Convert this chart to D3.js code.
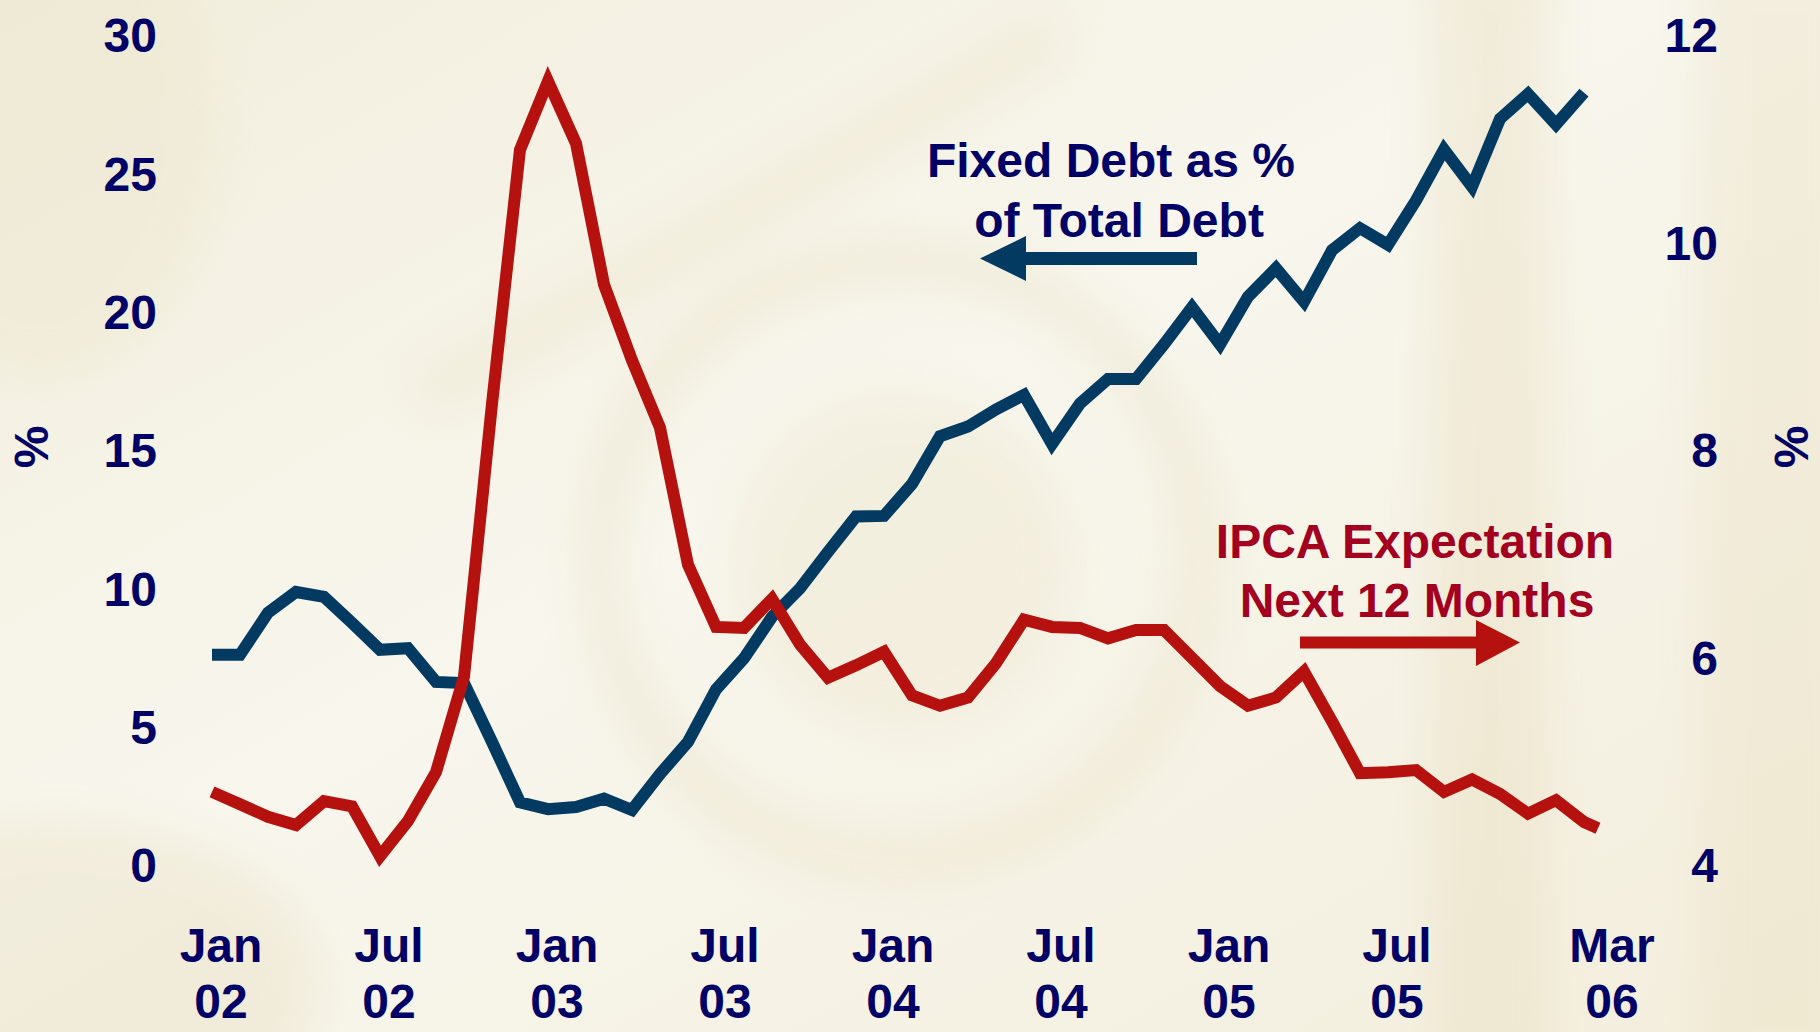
<!DOCTYPE html>
<html>
<head>
<meta charset="utf-8">
<script src="https://cdn.jsdelivr.net/npm/d3@7"></script>
<style>
  body { margin: 0; background: #f5f1e3; }
  svg { display: block; }
  svg text { font-family: "Liberation Sans", Arial, sans-serif; font-weight: bold; font-size: 48px; }
</style>
</head>
<body>
<div class="chart_wrapper"></div>
<script>

// Fixed rate debt as % of total debt (left axis), monthly Jan 02 .. Feb 06
const fixedDebt = [
  7.58, 7.58, 9.1, 9.85, 9.67, 8.73, 7.76, 7.82, 6.6, 6.56, 4.43, 2.25,
  2.0, 2.08, 2.38, 1.97, 3.27, 4.43, 6.33, 7.45, 8.95, 9.98, 11.3, 12.58,
  12.6, 13.75, 15.48, 15.83, 16.45, 16.97, 15.2, 16.66, 17.55, 17.55, 18.8, 20.14,
  18.8, 20.52, 21.55, 20.34, 22.2, 23.0, 22.4, 24.0, 25.84, 24.5, 26.95, 27.85,
  26.75, 27.9
]

// IPCA expectation next 12 months (right axis), same months
const ipcaExp = [
  4.70, 4.58, 4.46, 4.38, 4.61, 4.56, 4.08, 4.42, 4.89, 5.81, 8.44, 10.89,
  11.55, 10.95, 9.59, 8.86, 8.21, 6.89, 6.29, 6.28, 6.56, 6.12, 5.80, 5.92,
  6.05, 5.63, 5.53, 5.61, 5.94, 6.36, 6.29, 6.28, 6.18, 6.26, 6.26, 5.99,
  5.72, 5.53, 5.61, 5.86, 5.38, 4.88, 4.89, 4.91, 4.70, 4.82, 4.68, 4.49,
  4.62, 4.41
]
// the red line runs a little past the last full month
const ipcaTail = 4.35

const tickMonths = [0, 6, 12, 18, 24, 30, 36, 42, 50]
const tickLabels = [["Jan", "02"], ["Jul", "02"], ["Jan", "03"], ["Jul", "03"], ["Jan", "04"],
  ["Jul", "04"], ["Jan", "05"], ["Jul", "05"], ["Mar", "06"]]

const leftTicks = [0, 5, 10, 15, 20, 25, 30]
const rightTicks = [4, 6, 8, 10, 12]


const navy = "#000066"
const blueLine = "#023a62"
const redLine = "#b5120f"
const redText = "#a3001f"

const width = 1820, height = 1032

const svg = d3.select(".chart_wrapper")
  .append("svg")
    .attr("width", width)
    .attr("height", height)
    .attr("viewBox", `0 0 ${width} ${height}`)


//background, a pale banknote-ish paper

const defs = svg.append("defs")

defs.append("filter")
    .attr("id", "soft")
    .attr("x", "-50%").attr("y", "-50%").attr("width", "200%").attr("height", "200%")
  .append("feGaussianBlur")
    .attr("stdDeviation", 22)

const paper = defs.append("linearGradient")
    .attr("id", "paper")
    .attr("x1", 0).attr("y1", 0).attr("x2", 1).attr("y2", 1)
paper.append("stop").attr("offset", 0).attr("stop-color", "#f2eedd")
paper.append("stop").attr("offset", 0.45).attr("stop-color", "#f8f6ed")
paper.append("stop").attr("offset", 1).attr("stop-color", "#f3eedc")

svg.append("rect")
    .attr("width", width)
    .attr("height", height)
    .attr("fill", "url(#paper)")

const mark = svg.append("g")
    .attr("filter", "url(#soft)")
    .attr("opacity", 0.35)

// seal
mark.append("circle")
    .attr("cx", 900).attr("cy", 560).attr("r", 300)
    .attr("fill", "none")
    .attr("stroke", "#e4dab9")
    .attr("stroke-width", 40)
mark.append("circle")
    .attr("cx", 900).attr("cy", 560).attr("r", 170)
    .attr("fill", "#ece4c9")

// right hand band
mark.append("rect")
    .attr("x", 1430).attr("y", -40).attr("width", 120).attr("height", 1120)
    .attr("fill", "#e6dcbb")
mark.append("rect")
    .attr("x", 1700).attr("y", -40).attr("width", 160).attr("height", 1120)
    .attr("fill", "#e9e0c2")

// corners
mark.append("ellipse")
    .attr("cx", 60).attr("cy", 980).attr("rx", 260).attr("ry", 160)
    .attr("fill", "#e6ddbd")
mark.append("ellipse")
    .attr("cx", 40).attr("cy", 120).attr("rx", 180).attr("ry", 260)
    .attr("fill", "#ebe4c8")

// diagonal serial band
mark.append("line")
    .attr("x1", 420).attr("y1", 400).attr("x2", 1060).attr("y2", 30)
    .attr("stroke", "#ebe3c8")
    .attr("stroke-width", 60)


//scales

const xScale = d3.scaleLinear()
  .domain([0, fixedDebt.length - 1])
  .range([212, 1584])

const yLeft = d3.scaleLinear()
  .domain([0, 30])
  .range([864.5, 34.5])

const yRight = d3.scaleLinear()
  .domain([4, 12])
  .range([864.5, 34.5])


//axes, labels only

const leftAxis = d3.axisLeft(yLeft)
  .tickValues(leftTicks)
  .tickSize(0)
  .tickPadding(0)

svg.append("g")
    .attr("class", "yAxis")
    .attr("transform", "translate(157,0)")
    .call(leftAxis)

const rightAxis = d3.axisLeft(yRight)
  .tickValues(rightTicks)
  .tickSize(0)
  .tickPadding(0)

svg.append("g")
    .attr("class", "yAxis2")
    .attr("transform", "translate(1718,0)")
    .call(rightAxis)

svg.selectAll(".yAxis .domain, .yAxis2 .domain").remove()
svg.selectAll(".yAxis text, .yAxis2 text")
    .attr("fill", navy)
    .attr("dy", "0.36em")

svg.selectAll(".yAxis, .yAxis2")
    .attr("font-size", null)
    .attr("font-family", null)

// % units
svg.append("text")
    .attr("transform", "translate(31,447) rotate(-90)")
    .attr("text-anchor", "middle")
    .attr("dy", "0.36em")
    .attr("fill", navy)
    .text("%")

svg.append("text")
    .attr("transform", "translate(1791,447) rotate(-90)")
    .attr("text-anchor", "middle")
    .attr("dy", "0.36em")
    .attr("fill", navy)
    .text("%")

// x labels, two lines each
const xLabels = svg.append("g")
    .attr("class", "xAxis")
  .selectAll("text")
  .data(tickMonths)
  .join("text")
    .attr("text-anchor", "middle")
    .attr("fill", navy)

xLabels.append("tspan")
    .attr("x", (d, i) => xScale(d) + (i === tickMonths.length - 1 ? 0 : 9))
    .attr("y", 962)
    .text((d, i) => tickLabels[i][0])

xLabels.append("tspan")
    .attr("x", (d, i) => xScale(d) + (i === tickMonths.length - 1 ? 0 : 9))
    .attr("y", 1018)
    .text((d, i) => tickLabels[i][1])


//lines

const debtLine = d3.line()
  .x((d, i) => xScale(i))
  .y(d => yLeft(d))

svg.append("path")
    .datum(fixedDebt)
    .attr("d", debtLine)
    .attr("fill", "none")
    .attr("stroke", blueLine)
    .attr("stroke-width", 12)
    .attr("stroke-linejoin", "miter")

const ipcaPoints = ipcaExp.map((v, i) => [i, v])
ipcaPoints.push([ipcaExp.length - 0.5, ipcaTail])

const ipcaLine = d3.line()
  .x(d => xScale(d[0]))
  .y(d => yRight(d[1]))

svg.append("path")
    .datum(ipcaPoints)
    .attr("d", ipcaLine)
    .attr("fill", "none")
    .attr("stroke", redLine)
    .attr("stroke-width", 12)
    .attr("stroke-linejoin", "miter")


//annotations

svg.append("text")
    .attr("x", 1111).attr("y", 177)
    .attr("text-anchor", "middle")
    .attr("fill", navy)
    .text("Fixed Debt as %")
svg.append("text")
    .attr("x", 1119).attr("y", 237)
    .attr("text-anchor", "middle")
    .attr("fill", navy)
    .text("of Total Debt")

svg.append("rect")
    .attr("x", 1024).attr("y", 252)
    .attr("width", 173).attr("height", 13)
    .attr("fill", blueLine)
svg.append("path")
    .attr("d", "M980,258.5 L1026,236 L1026,281 Z")
    .attr("fill", blueLine)

svg.append("text")
    .attr("x", 1415).attr("y", 558)
    .attr("text-anchor", "middle")
    .attr("fill", redText)
    .text("IPCA Expectation")
svg.append("text")
    .attr("x", 1417).attr("y", 617)
    .attr("text-anchor", "middle")
    .attr("fill", redText)
    .text("Next 12 Months")

svg.append("rect")
    .attr("x", 1300).attr("y", 636.5)
    .attr("width", 177).attr("height", 12)
    .attr("fill", redLine)
svg.append("path")
    .attr("d", "M1520,642.5 L1476,620 L1476,666 Z")
    .attr("fill", redLine)

</script>
</body>
</html>
